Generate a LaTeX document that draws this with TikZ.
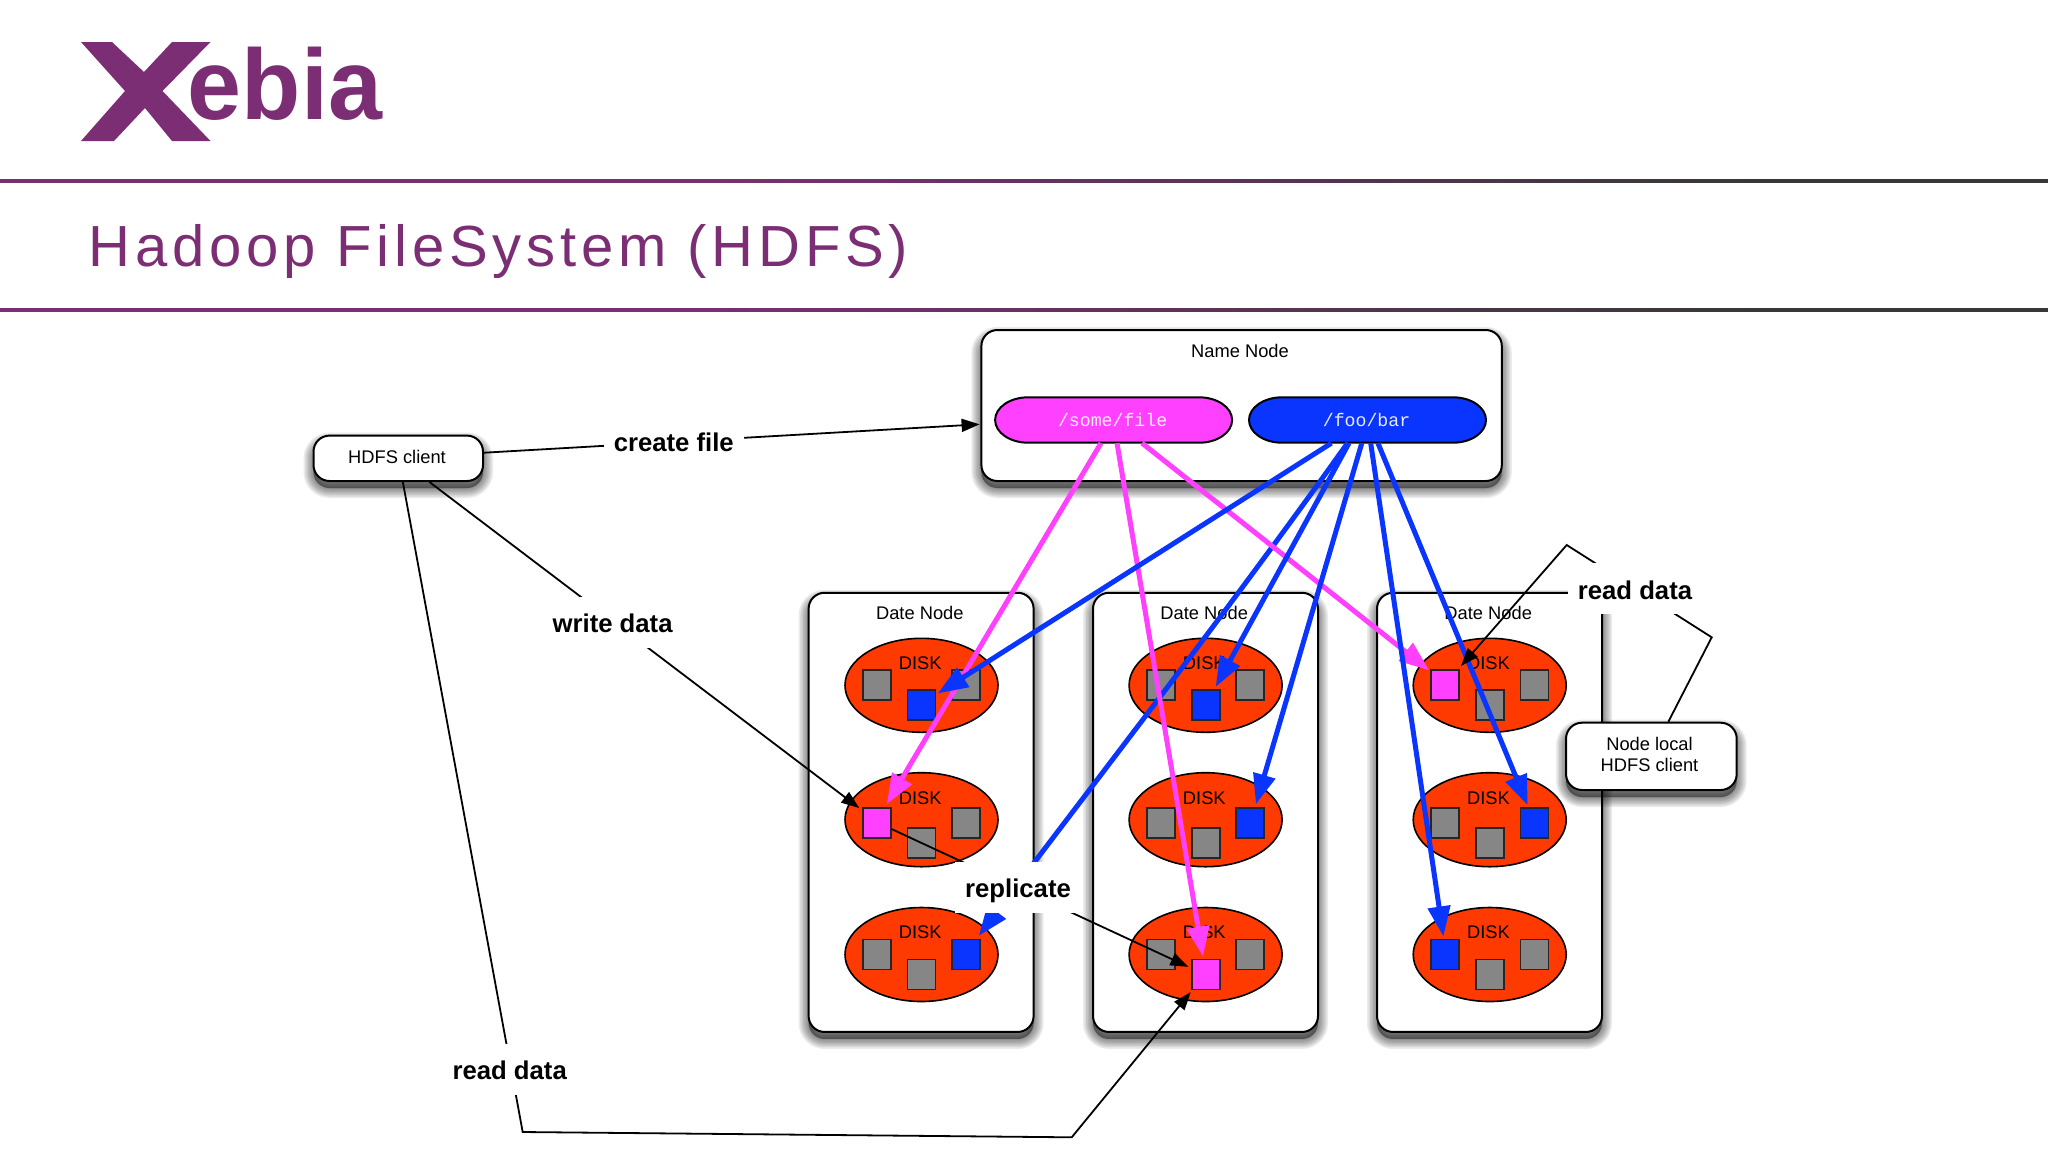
\documentclass[tikz,border=0pt]{standalone}
\usepackage{fontspec}
\usepackage{graphicx}
\usetikzlibrary{arrows.meta,shapes.geometric}
\setmainfont{Liberation Sans}
\setmonofont{Liberation Mono}
\newfontfamily\titlefont[LetterSpace=8.3]{Liberation Sans}
\definecolor{xpurple}{HTML}{7C2E74}
\definecolor{xdark}{HTML}{383838}
\definecolor{gmagenta}{HTML}{FF40FF}
\definecolor{gblue}{HTML}{0A35FF}
\definecolor{gred}{HTML}{FF3A00}
\definecolor{ggray}{HTML}{868686}
\pgfdeclarehorizontalshading{rulefade}{100bp}{color(0bp)=(xpurple); color(42bp)=(xpurple); color(68bp)=(xdark); color(100bp)=(xdark)}
\tikzset{
  shlayer/.style={preaction={draw=black,fill=black,draw opacity=.08,fill opacity=.08,line width=#1,transform canvas={yshift=-3.5pt}}},
  softshadow/.style={shlayer=10pt,shlayer=8.5pt,shlayer=7pt,shlayer=5.5pt,shlayer=4pt,shlayer=2.5pt,shlayer=1pt},
  boxnode/.style={draw=black,fill=white,line width=1pt,rounded corners=8pt,inner sep=0pt,softshadow},
  disknode/.style={ellipse,draw=black,fill=gred,line width=.8pt,minimum width=76.5pt,minimum height=47pt,inner sep=0pt},
  sqnode/.style={rectangle,draw=black!85,fill=#1,line width=.9pt,minimum width=14pt,minimum height=15pt,inner sep=0pt},
  pillshape/.style={draw=black,fill=#1,line width=1pt},
  pilltext/.style={rectangle,minimum width=118.5pt,minimum height=22.7pt,inner sep=0pt,text=white!90!#1,font=\ttfamily\fontsize{9.1pt}{11pt}\selectfont},
  smalltext/.style={font=\fontsize{9.15pt}{10.85pt}\selectfont,inner sep=0pt,align=center},
  cutlabel/.style={fill=white,inner xsep=5pt,inner ysep=0pt,minimum height=25.5pt,text height=13.3pt,text depth=2.8pt,font=\bfseries\fontsize{12.85pt}{15pt}\selectfont},
  thin arrow/.style={draw=black,line width=.9pt,-{Triangle[length=9pt,width=6.5pt]}},
  pink arrow/.style={draw=gmagenta,line width=2.5pt,-{Triangle[length=15pt,width=11pt]}},
  blue arrow/.style={draw=gblue,line width=2.5pt,-{Triangle[length=15pt,width=11pt]}},
}
\newcommand{\disk}[7]{%
  \node[disknode] (d#1) at (#2,#3) {};
  \node[smalltext] (t#1) at (#2-1.3,#3-22) {DISK};
  \node[sqnode=#5] (s#1l) at (#2-44.7,#3+#4) {};
  \node[sqnode=#6] (s#1c) at (#2,#3+#4+20) {};
  \node[sqnode=#7] (s#1r) at (#2+44.7,#3+#4) {};
}
\newcommand{\datanode}[2]{%
  \node[boxnode,minimum width=112.5pt,minimum height=219.6pt] (#1) at (#2,812.35) {};
  \node[smalltext] (#1t) at (#2-1.3,613) {Date Node};
}
\newcommand{\pillbody}[3]{%
  \draw[pillshape=#3] (#1-85.5,#2-22.7) -- (#1+85.5,#2-22.7)
    arc[start angle=90,end angle=-90,x radius=16.5pt,y radius=11.35pt]
    -- (#1-85.5,#2+22.7)
    arc[start angle=-90,end angle=-270,x radius=16.5pt,y radius=11.35pt] -- cycle;
}
\begin{document}
\begin{tikzpicture}[x=.5pt,y=-.5pt]
\useasboundingbox (0,0) rectangle (2048,1152);
% header
\shade[shading=rulefade] (0,179.3) rectangle (2048,182.3);
\shade[shading=rulefade] (0,308.5) rectangle (2048,311.5);
% logo
\fill[xpurple] (81,42) -- (112,42) -- (144,72) -- (172,42) -- (210.5,42) -- (162.5,91) -- (210.5,141) -- (172,141) -- (145,108) -- (114,141) -- (81,141) -- (125,91) -- cycle;
\node[anchor=base west,inner sep=0pt,text=xpurple,font=\bfseries\fontsize{50pt}{60pt}\selectfont] (logotext) at (187.5,119) {\scalebox{.97}[1]{ebia}};
\node[anchor=base west,inner sep=0pt,text=xpurple,font=\titlefont\fontsize{29pt}{34pt}\selectfont] (title) at (88,266) {Hadoop FileSystem (HDFS)};
% boxes
\node[boxnode,minimum width=260.2pt,minimum height=75.5pt] (namenode) at (1241.6,405.5) {};
\node[smalltext] (namelabel) at (1240,351) {Name Node};
\pillbody{1113.6}{420}{gmagenta}
\pillbody{1367.5}{420}{gblue}
\node[pilltext=gmagenta] (somefile) at (1113.6,420) {\raisebox{-.5pt}{\hspace{-1pt}/some/file}};
\node[pilltext=gblue] (foobar) at (1367.5,420) {\raisebox{-.5pt}{\hspace{-1pt}/foo/bar}};
\node[boxnode,minimum width=84.75pt,minimum height=22.7pt] (client) at (398.25,458.3) {};
\node[smalltext] (clientlabel) at (397,457) {HDFS client};
\datanode{dn1}{921.1}
\datanode{dn2}{1205.5}
\datanode{dn3}{1489.5}
\disk{11}{921.5}{685.3}{0}{ggray}{gblue}{ggray}
\disk{12}{921.5}{819.7}{3}{gmagenta}{ggray}{ggray}
\disk{13}{921.5}{954.5}{0}{ggray}{ggray}{gblue}
\disk{21}{1205.6}{685.3}{0}{ggray}{gblue}{ggray}
\disk{22}{1205.6}{819.7}{3}{ggray}{ggray}{gblue}
\disk{23}{1205.6}{954.5}{0}{ggray}{gmagenta}{ggray}
\disk{31}{1489.7}{685.3}{0}{gmagenta}{ggray}{ggray}
\disk{32}{1489.7}{819.7}{3}{ggray}{ggray}{gblue}
\disk{33}{1489.7}{954.5}{0}{gblue}{ggray}{ggray}
\node[boxnode,minimum width=85.35pt,minimum height=33.65pt] (nodelocal) at (1651.35,756.35) {};
\node[smalltext] (locallabel) at (1649.5,754.5) {Node local\\HDFS client};
% thick connectors
\coordinate (bendA) at (1230,608);
\coordinate (bendB) at (1100,775);
\draw[blue arrow] ([xshift=-10pt]foobar.south) .. controls (bendA) and (bendB) .. ([shift={(-1.15pt,1.4pt)}]s13r.north east);
\draw[pink arrow] ([xshift=-6.3pt]somefile.south) -- ([shift={(5pt,1.35pt)}]s12l.north);
\draw[pink arrow] ([xshift=1.7pt]somefile.south) -- ([shift={(-1.3pt,1pt)}]s23c.north);
\draw[pink arrow] ([xshift=14.2pt]somefile.south) -- ([shift={(-.45pt,-.5pt)}]s31l.north west);
\draw[blue arrow] ([xshift=-18.05pt]foobar.south) -- ([shift={(.75pt,-2pt)}]s11c.north east);
\draw[blue arrow] ([xshift=-9.25pt]foobar.south) -- ([shift={(5.05pt,1.3pt)}]s21c.north);
\draw[blue arrow] ([xshift=-2.85pt]foobar.south) -- ([shift={(2.8pt,1.35pt)}]s22r.north);
\draw[blue arrow] ([xshift=1.6pt]foobar.south) -- ([shift={(-.8pt,1.1pt)}]s33l.north);
\draw[blue arrow] ([xshift=5.2pt]foobar.south) -- ([shift={(-3.4pt,.85pt)}]s32r.north);
% thin connectors
\coordinate (rdA) at (522.7,1132);
\coordinate (rdB) at (1071.7,1137.3);
\coordinate (lrA) at (1711.7,637.3);
\coordinate (lrB) at (1566.7,545);
\draw[thin arrow] ([yshift=2.8pt]client.east) -- ([shift={(-.4pt,-9.4pt)}]namenode.west);
\draw[thin arrow] ([xshift=15.6pt]client.south) -- ([shift={(-1.3pt,-.65pt)}]s12l.north west);
\draw[thin arrow] ([xshift=2.3pt]client.south) -- (rdA) -- (rdB) -- ([shift={(0pt,-.85pt)}]s23c.south west);
\draw[thin arrow] ([shift={(0pt,-3.2pt)}]s12l.east) -- ([shift={(-1.15pt,3.85pt)}]s23c.west);
\draw[thin arrow] ([xshift=8.5pt]nodelocal.north) -- (lrA) -- (lrB) -- ([shift={(.55pt,1.7pt)}]s31l.north east);
% labels
\node[cutlabel] (createlabel) at (673.8,441) {create file};
\node[cutlabel] (writelabel) at (612.6,622) {write data};
\node[cutlabel] (repllabel) at (1018,887.3) {replicate};
\node[cutlabel] (readleft) at (509.7,1069) {read data};
\node[cutlabel] (readright) at (1635,588.7) {read data};
\end{tikzpicture}
\end{document}
